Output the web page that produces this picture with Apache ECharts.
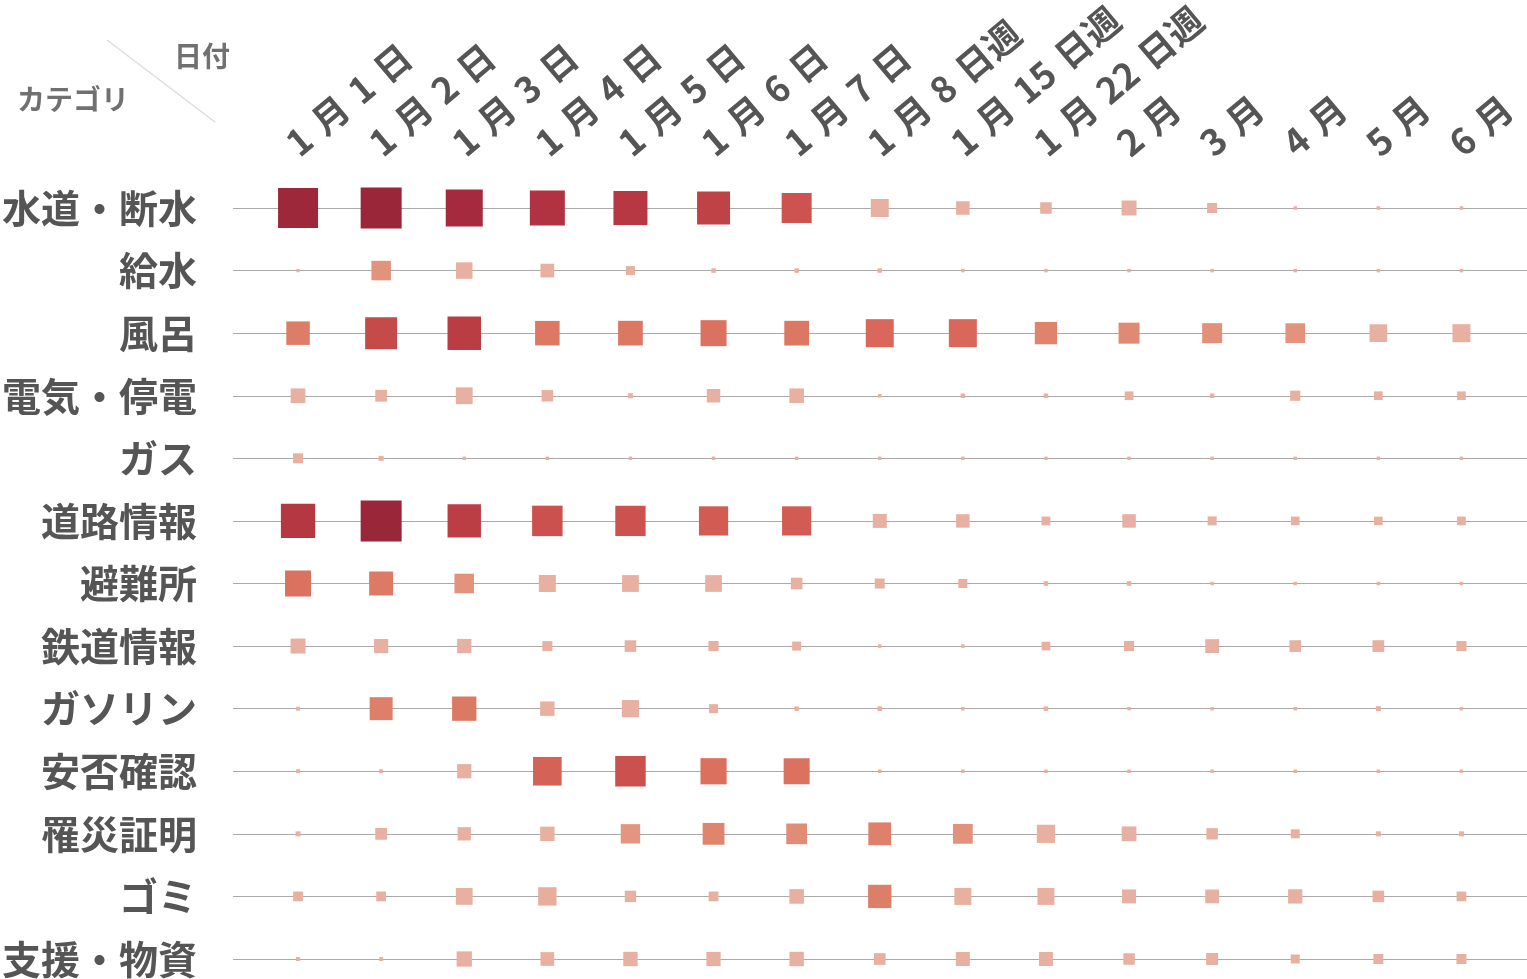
<!DOCTYPE html>
<html>
<head>
<meta charset="utf-8">
<script src="https://cdn.jsdelivr.net/npm/echarts@6/dist/echarts.min.js"></script>
<style>
html,body{margin:0;padding:0;background:#fff;}
#chart{width:1527px;height:979px;}
</style>
</head>
<body>
<div id="chart"></div>
<script>
const SP = '\u2004';
const dates = ['1'+SP+'月'+SP+'1'+SP+'日','1'+SP+'月'+SP+'2'+SP+'日','1'+SP+'月'+SP+'3'+SP+'日','1'+SP+'月'+SP+'4'+SP+'日','1'+SP+'月'+SP+'5'+SP+'日','1'+SP+'月'+SP+'6'+SP+'日','1'+SP+'月'+SP+'7'+SP+'日','1'+SP+'月'+SP+'8'+SP+'日週','1'+SP+'月'+SP+'15'+SP+'日週','1'+SP+'月'+SP+'22'+SP+'日週','2'+SP+'月','3'+SP+'月','4'+SP+'月','5'+SP+'月','6'+SP+'月'];
const categories = ['水道・断水','給水','風呂','電気・停電','ガス','道路情報','避難所','鉄道情報','ガソリン','安否確認','罹災証明','ゴミ','支援・物資'];

// values (marker magnitude)
const suido    = [40, 41, 37, 35, 34, 33, 30, 18, 13.5, 11.5, 15, 10, 3.5, 3.5, 3.5];
const kyusui   = [3.3, 19.5, 16.5, 13.7, 9, 4.5, 4.5, 4.5, 3.5, 3.5, 3.5, 3.5, 3.5, 3.5, 3.5];
const furo     = [23.5, 32, 33.5, 24.5, 24.7, 26, 24.7, 28, 28, 22.3, 21, 20, 19.7, 17.7, 18];
const denki    = [14.7, 11.8, 16.8, 11.6, 5, 13.5, 14.6, 3.5, 4.5, 4.5, 8.7, 4.5, 10.2, 8.7, 8.7];
const gas      = [10, 5, 3.5, 3.5, 3.5, 3.5, 3.5, 3.5, 3.5, 3.5, 3.5, 3.5, 3.5, 3.5, 3.5];
const doro     = [34.3, 41, 33.4, 30.5, 30.3, 29.2, 29.2, 14, 13.5, 8.8, 13.5, 9, 8.7, 8.6, 8.7];
const hinanjo  = [26, 24, 19.6, 17, 16.8, 16.7, 11.6, 10, 9, 4.5, 4.5, 3.5, 3.5, 3.5, 3.5];
const tetsudo  = [15, 14.2, 14.3, 10, 11.6, 10.2, 9, 3.5, 3.5, 8.7, 10.1, 13.8, 11.7, 11.7, 10.1];
const gasoline = [4, 23, 24.3, 14.4, 17.2, 9, 4.5, 4.7, 3.5, 4.5, 3.5, 3.5, 3.5, 5, 3.5];
const anpi     = [4, 4, 14.3, 28.6, 30.5, 26.2, 26, 3.5, 3.5, 3.5, 3.5, 3.5, 3.5, 3.5, 3.5];
const risai    = [5, 11.8, 13.3, 14.4, 19.4, 21.8, 20.7, 22.8, 19.8, 18.2, 14.8, 11.4, 9, 5, 5];
const gomi     = [9.8, 9.8, 16.8, 18.4, 11.4, 9.8, 14.6, 23.3, 17, 17, 14, 13.8, 14.3, 11.6, 9.7];
const shien    = [4, 4, 15.3, 13.7, 14.4, 14.2, 14.4, 11.7, 14, 14, 11.5, 12, 9, 10, 10];

const rows = [suido, kyusui, furo, denki, gas, doro, hinanjo, tetsudo, gasoline, anpi, risai, gomi, shien];

const data = [];
rows.forEach((r, yi) => r.forEach((v, xi) => data.push([xi, yi, v])));

// colour scale (style)
const stops = [[3.5,'#e8b0a0'],[18.3,'#e8b0a0'],[19.5,'#e3937c'],[22,'#df846d'],[24.5,'#dc7863'],[28,'#d9685a'],[30,'#cd5350'],[32,'#c54b4a'],[34,'#b73842'],[37,'#a52a3e'],[41,'#9a2739']];
function hex(c){return [1,3,5].map(i=>parseInt(c.substr(i,2),16));}
function colorFor(v){
  if (v <= stops[0][0]) return stops[0][1];
  for (let i=1;i<stops.length;i++){
    if (v <= stops[i][0]) {
      const a = stops[i-1], b = stops[i];
      const t = (v-a[0])/(b[0]-a[0]);
      const ca = hex(a[1]), cb = hex(b[1]);
      const c = ca.map((x,k)=>Math.round(x+(cb[k]-x)*t));
      return 'rgb('+c.join(',')+')';
    }
  }
  return stops[stops.length-1][1];
}

const FONT = '"Noto Sans CJK JP", "Noto Sans", sans-serif';
const chart = echarts.init(document.getElementById('chart'), null, {renderer:'canvas'});
chart.setOption({
  backgroundColor:'#fff',
  animation:false,
  textStyle:{fontFamily:FONT},
  grid:[
    {left:233, right:0, top:208, bottom:20, outerBoundsMode:'none'},
    {left:256.5, right:24, top:208, bottom:20, outerBoundsMode:'none'},
    {left:249.5, right:31, top:208, bottom:20, outerBoundsMode:'none'}
  ],
  xAxis:[
    {gridIndex:0, type:'value', show:false, min:0, max:1},
    {gridIndex:1, type:'category', data:dates, boundaryGap:true, show:false},
    {gridIndex:2, type:'category', data:dates, position:'top', boundaryGap:true,
     axisLine:{show:false}, axisTick:{show:false}, splitLine:{show:false},
     axisLabel:{interval:0, rotate:-40, margin:60, fontSize:36, fontWeight:'bold', color:'#555', fontFamily:FONT}}
  ],
  yAxis:[
    {gridIndex:0, type:'category', data:categories, inverse:true, boundaryGap:false,
     axisLine:{show:false}, axisTick:{show:false},
     splitLine:{show:true, lineStyle:{color:'#aaaaaa', width:1}},
     axisLabel:{interval:0, margin:36, fontSize:39, fontWeight:'bold', color:'#555', fontFamily:FONT}},
    {gridIndex:1, type:'category', data:categories, inverse:true, boundaryGap:false, show:false},
    {gridIndex:2, type:'category', data:categories, inverse:true, boundaryGap:false, show:false}
  ],
  graphic:[
    {type:'line', shape:{x1:107, y1:40, x2:215, y2:122}, style:{stroke:'#dddddd', lineWidth:1.5}},
    {type:'text', left:174, top:42, style:{text:'日付', fill:'#707070', font:'bold 28px '+FONT}},
    {type:'text', left:17, top:85, style:{text:'カテゴリ', fill:'#707070', font:'bold 28px '+FONT}}
  ],
  series:[{
    type:'scatter',
    xAxisIndex:1, yAxisIndex:1,
    symbol:'rect',
    clip:false,
    data:data,
    symbolSize:function(v){return v[2];},
    itemStyle:{
      color:function(p){return colorFor(p.value[2]);},
      opacity:1
    }
  }]
});
</script>
</body>
</html>
